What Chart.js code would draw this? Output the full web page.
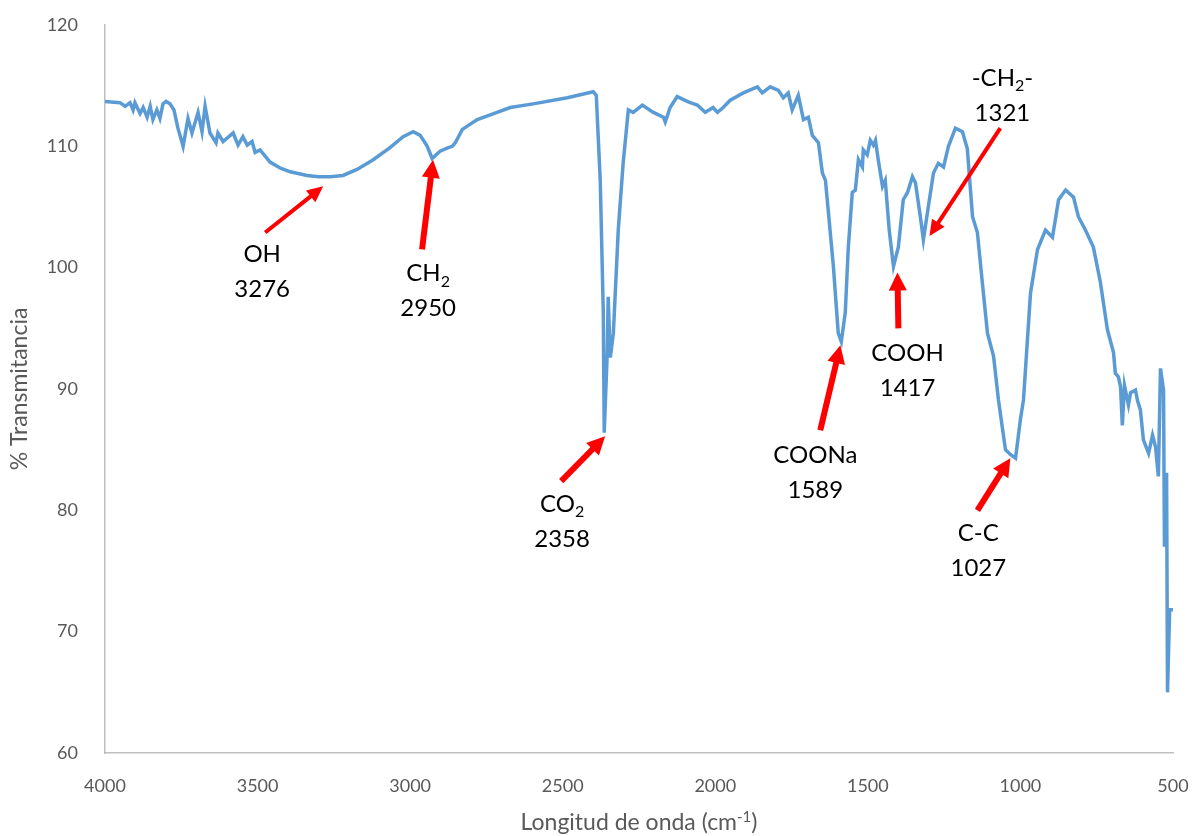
<!DOCTYPE html>
<html>
<head>
<meta charset="utf-8">
<script src="https://cdn.jsdelivr.net/npm/chart.js@4"></script>
<style>
  html, body { margin: 0; padding: 0; background: #fff; }
  #wrap { width: 1196px; height: 836px; }
</style>
</head>
<body>
<div id="wrap"><canvas id="chart" width="1196" height="836"></canvas></div>
<script>
// spectrum (wavenumber cm-1, % transmittance)
const wavenumbers = [
  4000, 3951, 3934, 3918, 3908, 3902, 3885, 3875, 3862, 3852, 3843, 3830, 3820, 3810,
  3800, 3787, 3774, 3761, 3744, 3728, 3715, 3695, 3682, 3672, 3656, 3636, 3630, 3613,
  3580, 3564, 3548, 3534, 3518, 3508, 3492, 3459, 3425, 3393, 3338, 3300, 3262, 3220,
  3174, 3121, 3066, 3023, 2990, 2967, 2944, 2928, 2902, 2875, 2862, 2852, 2829, 2780,
  2715, 2672, 2597, 2485, 2400, 2390, 2377, 2367, 2364, 2354, 2351, 2344, 2334, 2318,
  2302, 2285, 2269, 2239, 2203, 2170, 2164, 2148, 2125, 2092, 2082, 2059, 2033, 2007,
  1993, 1974, 1951, 1908, 1862, 1846, 1820, 1793, 1777, 1761, 1748, 1728, 1711, 1695,
  1682, 1662, 1649, 1639, 1629, 1613, 1597, 1587, 1574, 1564, 1551, 1541, 1531, 1518,
  1515, 1502, 1492, 1482, 1475, 1466, 1452, 1443, 1430, 1416, 1400, 1384, 1370, 1354,
  1344, 1328, 1318, 1302, 1285, 1269, 1252, 1236, 1213, 1190, 1174, 1157, 1141, 1125,
  1108, 1088, 1072, 1049, 1033, 1016, 1000, 990, 967, 944, 918, 895, 875, 852,
  826, 810, 787, 761, 738, 715, 695, 689, 679, 672, 666, 659, 646, 639,
  623, 616, 607, 597, 580, 567, 557, 548, 541, 531, 528, 521, 518, 511, 500
];
const transmittance = [
  113.7, 113.6, 113.3, 113.6, 113.0, 113.6, 112.7, 113.2, 112.4, 113.3, 112.2, 113.0, 112.3, 113.5,
  113.7, 113.5, 113.0, 111.5, 110.0, 112.3, 111.1, 112.8, 111.2, 113.3, 111.1, 110.3, 111.1, 110.4,
  111.1, 110.1, 110.8, 110.1, 110.4, 109.5, 109.7, 108.7, 108.2, 107.9, 107.6, 107.5, 107.5, 107.6,
  108.1, 108.9, 109.9, 110.8, 111.2, 110.9, 110.0, 109.0, 109.6, 109.9, 110.0, 110.3, 111.4, 112.2,
  112.8, 113.2, 113.5, 114.0, 114.5, 114.2, 107.2, 96.3, 86.4, 93.0, 97.6, 92.6, 94.6, 103.1,
  108.6, 113.0, 112.8, 113.4, 112.8, 112.4, 112.0, 113.2, 114.1, 113.7, 113.6, 113.4, 112.8, 113.2,
  112.8, 113.2, 113.8, 114.4, 114.9, 114.4, 114.9, 114.6, 114.0, 114.4, 113.0, 114.2, 112.2, 112.4,
  110.9, 110.3, 107.8, 107.2, 104.5, 100.1, 94.6, 93.9, 96.3, 101.7, 106.2, 106.4, 108.9, 108.3,
  109.7, 109.3, 110.5, 110.1, 110.5, 108.9, 106.7, 107.2, 103.1, 100.1, 101.7, 105.6, 106.2, 107.5,
  107.0, 104.2, 102.3, 105.0, 107.8, 108.6, 108.3, 110.0, 111.5, 111.2, 109.8, 104.2, 102.9, 98.8,
  94.6, 92.7, 89.1, 85.0, 84.6, 84.3, 87.5, 89.1, 97.9, 101.5, 103.1, 102.5, 105.6, 106.4,
  105.8, 104.2, 103.1, 101.7, 98.8, 94.9, 93.0, 91.3, 91.0, 90.2, 87.0, 90.3, 88.7, 89.7,
  89.9, 89.0, 88.3, 85.8, 84.7, 86.2, 85.2, 82.8, 91.7, 89.9, 77.0, 83.1, 65.0, 71.8, 71.8
];

const xTicks = [4000, 3500, 3000, 2500, 2000, 1500, 1000, 500];
const yTicks = [60, 70, 80, 90, 100, 110, 120];

// band assignments
const peakNames = ["OH", "CH_{2}", "CO_{2}", "COONa", "COOH", "-CH_{2}-", "C-C"];
const peakValues = ["3276", "2950", "2358", "1589", "1417", "1321", "1027"];

// arrows and label anchors, in data units: [tailX, tailY, tipX, tipY, labelX, labelY, thick]
const callouts = [
  [3475, 102.9, 3285, 106.7, 3485, 98.3, false],
  [2961, 101.5, 2925, 108.9, 2941, 96.7, true],
  [2505, 82.4, 2361, 86.1, 2502, 77.7, true],
  [1656, 86.6, 1590, 93.6, 1672, 81.7, true],
  [1400, 95.0, 1403, 99.6, 1370, 90.1, true],
  [1066, 111.5, 1298, 102.6, 1059, 112.8, false],
  [1141, 80.0, 1033, 84.3, 1138, 75.3, true]
];

const FONT = "Lato, 'Open Sans', sans-serif";

function drawRich(ctx, text, cx, cy, size) {
  // text like "CH_{2}" or "cm^{-1}"
  const parts = [];
  const re = /([_^])\{([^}]*)\}/g;
  let last = 0, m;
  while ((m = re.exec(text)) !== null) {
    if (m.index > last) parts.push({ t: text.slice(last, m.index), k: "" });
    parts.push({ t: m[2], k: m[1] });
    last = re.lastIndex;
  }
  if (last < text.length) parts.push({ t: text.slice(last), k: "" });

  const small = Math.round(size * 0.65);
  let total = 0;
  parts.forEach((p) => {
    ctx.font = `${p.k ? small : size}px ${FONT}`;
    p.w = ctx.measureText(p.t).width;
    total += p.w;
  });
  let x = cx - total / 2;
  const base = cy + size * 0.36;
  ctx.textAlign = "left";
  ctx.textBaseline = "alphabetic";
  parts.forEach((p) => {
    ctx.font = `${p.k ? small : size}px ${FONT}`;
    let y = base;
    if (p.k === "_") y = base + size * 0.22;
    if (p.k === "^") y = base - size * 0.38;
    ctx.fillText(p.t, x, y);
    x += p.w;
  });
}

function drawArrow(ctx, x1, y1, x2, y2, thick) {
  const lw = thick ? 6 : 4;
  const headLen = thick ? 18 : 16;
  const headW = thick ? 18 : 15;
  const ang = Math.atan2(y2 - y1, x2 - x1);
  const bx = x2 - headLen * Math.cos(ang);
  const by = y2 - headLen * Math.sin(ang);
  ctx.strokeStyle = "#ff0000";
  ctx.fillStyle = "#ff0000";
  ctx.lineWidth = lw;
  ctx.lineCap = "butt";
  ctx.beginPath();
  ctx.moveTo(x1, y1);
  ctx.lineTo(bx + 2 * Math.cos(ang), by + 2 * Math.sin(ang));
  ctx.stroke();
  ctx.beginPath();
  ctx.moveTo(x2, y2);
  ctx.lineTo(bx + (headW / 2) * Math.sin(ang), by - (headW / 2) * Math.cos(ang));
  ctx.lineTo(bx - (headW / 2) * Math.sin(ang), by + (headW / 2) * Math.cos(ang));
  ctx.closePath();
  ctx.fill();
}

const calloutPlugin = {
  id: "callouts",
  afterDatasetsDraw(chart) {
    const { ctx, scales } = chart;
    const xs = scales.x, ys = scales.y;
    ctx.save();
    callouts.forEach((c, i) => {
      drawArrow(ctx, xs.getPixelForValue(c[0]), ys.getPixelForValue(c[1]),
        xs.getPixelForValue(c[2]), ys.getPixelForValue(c[3]), c[6]);
      const lx = xs.getPixelForValue(c[4]);
      const ly = ys.getPixelForValue(c[5]);
      ctx.fillStyle = "#000";
      drawRich(ctx, peakNames[i], lx, ly - 35, 24);
      drawRich(ctx, peakValues[i], lx, ly, 24);
    });
    // x axis title with superscript
    ctx.fillStyle = "#595959";
    drawRich(ctx, "Longitud de onda (cm^{-1})", (chart.chartArea.left + chart.chartArea.right) / 2, 822, 23);
    ctx.restore();
  }
};

const points = wavenumbers.map((w, i) => ({ x: w, y: transmittance[i] }));

new Chart(document.getElementById("chart").getContext("2d"), {
  type: "line",
  data: {
    datasets: [{
      label: "% Transmitancia",
      data: points,
      borderColor: "#5b9bd5",
      borderWidth: 3.5,
      pointRadius: 0,
      tension: 0,
      fill: false
    }]
  },
  options: {
    responsive: false,
    animation: false,
    layout: { padding: { top: 25, right: 23, left: 0, bottom: 0 } },
    plugins: {
      legend: { display: false },
      tooltip: { enabled: false }
    },
    scales: {
      x: {
        type: "linear",
        reverse: true,
        min: 500,
        max: 4000,
        afterBuildTicks: (s) => { s.ticks = xTicks.map((v) => ({ value: v })); },
        afterFit: (s) => { s.height = 83; s.paddingLeft = 0; s.paddingRight = 0; },
        grid: { display: false },
        border: { display: true, color: "#bfbfbf", width: 1.5 },
        ticks: {
          color: "#595959",
          padding: 14,
          maxRotation: 0,
          callback: (v) => String(v),
          font: { family: FONT, size: 18 }
        }
      },
      y: {
        min: 60,
        max: 120,
        afterBuildTicks: (s) => { s.ticks = yTicks.map((v) => ({ value: v })); },
        afterFit: (s) => { s.width = 105; s.paddingTop = 0; s.paddingBottom = 0; },
        grid: { display: false },
        border: { display: true, color: "#bfbfbf", width: 1.5 },
        title: {
          display: true,
          text: "% Transmitancia",
          color: "#595959",
          font: { family: FONT, size: 23 },
          padding: { top: 6, bottom: 0 }
        },
        ticks: {
          color: "#595959",
          padding: 19,
          callback: (v) => String(v),
          font: { family: FONT, size: 18 }
        }
      }
    }
  },
  plugins: [calloutPlugin]
});
</script>
</body>
</html>
